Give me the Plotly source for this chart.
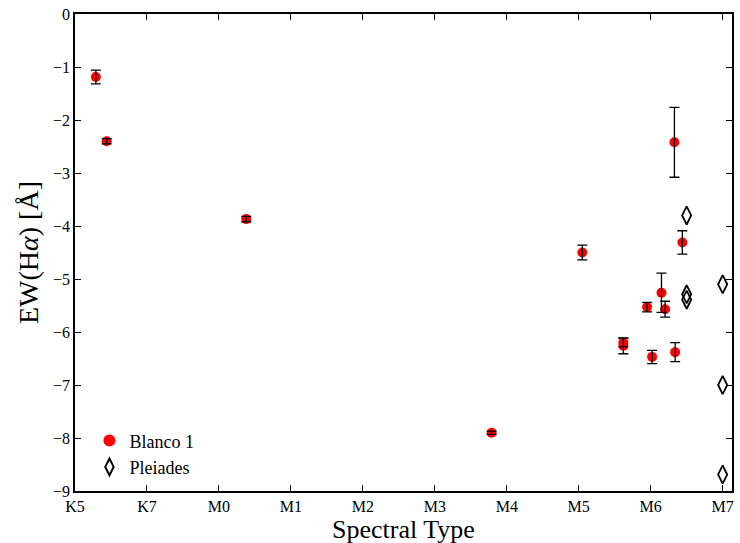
import plotly.graph_objects as go

# Spectral type numeric scale: M0 = 0, K7 = -1, K5 = -2, M1..M7 = 1..7
tick_vals = [-2, -1, 0, 1, 2, 3, 4, 5, 6, 7]
tick_text = ["K5", "K7", "M0", "M1", "M2", "M3", "M4", "M5", "M6", "M7"]
y_tick_vals = [-9, -8, -7, -6, -5, -4, -3, -2, -1, 0]
y_tick_text = ["\u22129", "\u22128", "\u22127", "\u22126", "\u22125", "\u22124", "\u22123", "\u22122", "\u22121", "0"]

blanco_sp = [-1.71, -1.56, 0.38, 3.79, 5.05, 5.62, 5.62, 5.95, 6.02, 6.15, 6.20, 6.33, 6.34, 6.44]
blanco_ew = [-1.19, -2.40, -3.87, -7.90, -4.50, -6.20, -6.26, -5.53, -6.47, -5.26, -5.57, -2.42, -6.38, -4.31]
blanco_err = [0.13, 0.05, 0.05, 0.03, 0.14, 0.08, 0.15, 0.09, 0.125, 0.37, 0.15, 0.66, 0.18, 0.22]

pleiades_sp = [6.50, 6.50, 6.50, 7.0, 7.0, 7.0]
pleiades_ew = [-3.80, -5.29, -5.39, -5.10, -7.00, -8.69]

FONT = "Liberation Serif, serif"

fig = go.Figure()
fig.add_trace(go.Scatter(
    x=blanco_sp, y=blanco_ew, mode="markers", name="Blanco 1",
    marker=dict(color="red", size=10, symbol="circle", line=dict(width=0)),
))
# error bars drawn on top of the markers (as in the reference)
fig.add_trace(go.Scatter(
    x=blanco_sp, y=blanco_ew, mode="markers", showlegend=False, hoverinfo="skip",
    marker=dict(color="rgba(0,0,0,0)", size=1),
    error_y=dict(type="data", array=blanco_err, color="black", thickness=1.3, width=5),
))
fig.add_trace(go.Scatter(
    x=pleiades_sp, y=pleiades_ew, mode="markers", name="Pleiades",
    marker=dict(color="black", size=13, symbol="diamond-tall-open", line=dict(width=1.8, color="black")),
))

axis_common = dict(
    showline=True, linecolor="black", linewidth=1.5, mirror="ticks",
    ticks="inside", ticklen=6, tickwidth=1, tickcolor="black",
    showgrid=False, zeroline=False, ticklabeloverflow="allow",
    tickfont=dict(family=FONT, size=16, color="black"),
)

fig.update_xaxes(range=[-2, 7.13], tickvals=tick_vals, ticktext=tick_text, **axis_common)
fig.update_yaxes(
    range=[-9, 0], tickvals=y_tick_vals, ticktext=y_tick_text,
    title=dict(text="EW(H<i>α</i>) [Å]", font=dict(family=FONT, size=28, color="black"), standoff=6),
    **axis_common,
)

fig.add_annotation(
    text="Spectral Type", xref="paper", yref="paper", x=0.5, y=-0.048,
    xanchor="center", yanchor="top", showarrow=False, borderpad=0,
    font=dict(family=FONT, size=26, color="black"),
)

fig.update_layout(
    width=740, height=543,
    margin=dict(l=75, r=6, t=8, b=52),
    paper_bgcolor="white", plot_bgcolor="white",
    legend=dict(x=0.022, y=0.012, xanchor="left", yanchor="bottom",
                font=dict(family=FONT, size=18, color="black"),
                bgcolor="rgba(0,0,0,0)", itemsizing="constant", tracegroupgap=4),
    showlegend=True,
)

fig.write_html("out.html")
